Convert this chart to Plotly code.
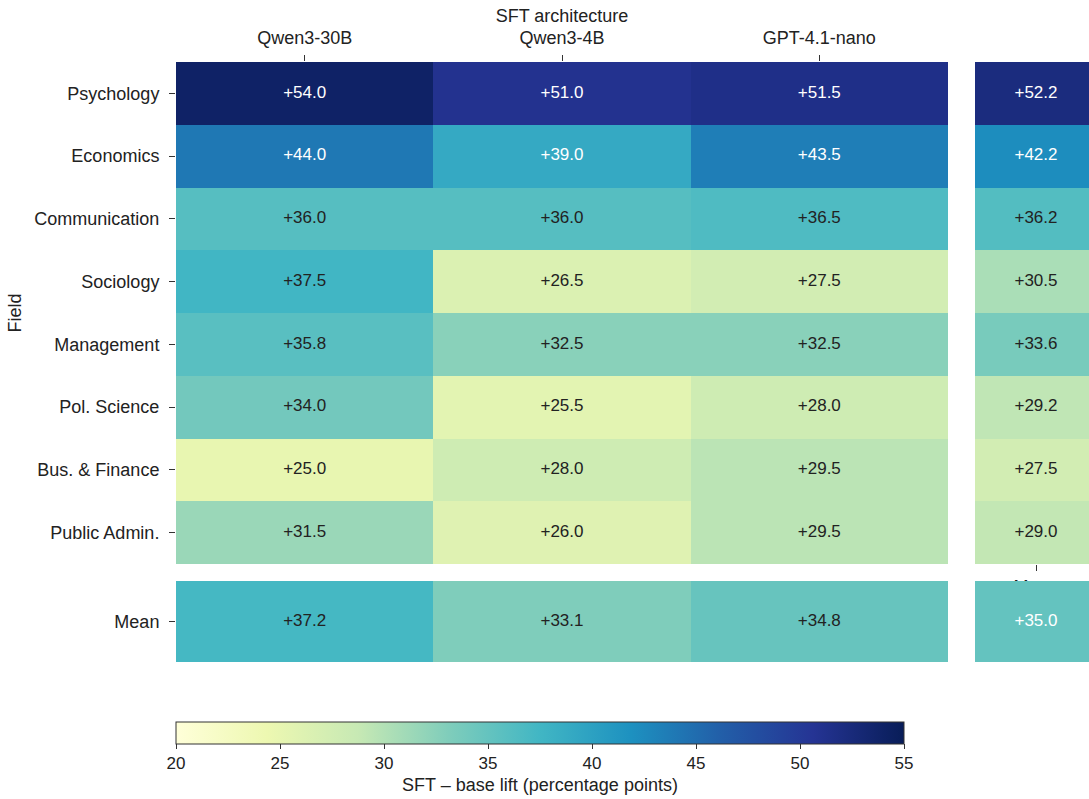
import plotly.graph_objects as go

fields = ["Psychology", "Economics", "Communication", "Sociology", "Management",
          "Pol. Science", "Bus. & Finance", "Public Admin."]
models = ["Qwen3-30B", "Qwen3-4B", "GPT-4.1-nano"]
qwen3_30b = [54.0, 44.0, 36.0, 37.5, 35.8, 34.0, 25.0, 31.5]
qwen3_4b = [51.0, 39.0, 36.0, 26.5, 32.5, 25.5, 28.0, 26.0]
gpt41_nano = [51.5, 43.5, 36.5, 27.5, 32.5, 28.0, 29.5, 29.5]
field_mean = [52.2, 42.2, 36.2, 30.5, 33.6, 29.2, 27.5, 29.0]
model_mean = [37.2, 33.1, 34.8]
overall_mean = [35.0]
cbar_ticks = [20, 25, 30, 35, 40, 45, 50, 55]

W, H = 1089, 799
FONT = "Liberation Sans, Arial, Helvetica, sans-serif"
DARK = "#222222"
ZMIN, ZMAX = 20, 55
YLGNBU = [[0.0, "#ffffd9"], [0.125, "#edf8b1"], [0.25, "#c7e9b4"], [0.375, "#7fcdbb"],
          [0.5, "#41b6c4"], [0.625, "#1d91c0"], [0.75, "#225ea8"], [0.875, "#253494"],
          [1.0, "#081d58"]]


def px_x(p):
    return p / W


def px_y(p):
    return 1 - p / H


def fmt(v):
    return f"+{v:.1f}"


def tcolor(v, thr=38):
    return "white" if v > thr else DARK


main_z = [[qwen3_30b[i], qwen3_4b[i], gpt41_nano[i]] for i in range(len(fields))]

fig = go.Figure()

common = dict(colorscale=YLGNBU, zmin=ZMIN, zmax=ZMAX, hoverinfo="skip")
CELL = dict(family=FONT, size=17)
tickfont = dict(family=FONT, size=18, color=DARK)
titlefont = dict(family=FONT, size=18, color=DARK)

# top-left: fields x models
fig.add_trace(go.Heatmap(z=main_z, x=models, y=fields, xaxis="x", yaxis="y",
                         showscale=True,
                         colorbar=dict(orientation="h", x=px_x(176), xanchor="left",
                                       y=px_y(722), yanchor="top",
                                       lenmode="pixels", len=728, thickness=22,
                                       xpad=0, ypad=0,
                                       outlinewidth=1, outlinecolor="#333333",
                                       tickvals=cbar_ticks, ticks="outside", ticklen=5,
                                       tickcolor="#333333",
                                       tickfont=dict(family=FONT, size=17, color=DARK),
                                       title=dict(text="SFT \u2013 base lift (percentage points)",
                                                  side="bottom",
                                                  font=titlefont)),
                         **common))
xs, ys, ts, cs = [], [], [], []
for i, f in enumerate(fields):
    for j, m in enumerate(models):
        v = main_z[i][j]
        xs.append(m); ys.append(f); ts.append(fmt(v)); cs.append(tcolor(v))
fig.add_trace(go.Scatter(x=xs, y=ys, text=ts, mode="text", xaxis="x", yaxis="y",
                         textfont=dict(CELL, color=cs),
                         hoverinfo="skip", showlegend=False))

# top-right: fields x Mean
fig.add_trace(go.Heatmap(z=[[v] for v in field_mean], x=["Mean"], y=fields,
                         xaxis="x2", yaxis="y2", showscale=False, **common))
fig.add_trace(go.Scatter(x=["Mean"] * len(fields), y=fields,
                         text=[fmt(v) for v in field_mean], mode="text",
                         xaxis="x2", yaxis="y2",
                         textfont=dict(CELL, color=[tcolor(v) for v in field_mean]),
                         hoverinfo="skip", showlegend=False))

# bottom-left: Mean x models
fig.add_trace(go.Heatmap(z=[model_mean], x=models, y=["Mean"],
                         xaxis="x3", yaxis="y3", showscale=False, **common))
fig.add_trace(go.Scatter(x=models, y=["Mean"] * len(models),
                         text=[fmt(v) for v in model_mean], mode="text",
                         xaxis="x3", yaxis="y3",
                         textfont=dict(CELL, color=[tcolor(v) for v in model_mean]),
                         hoverinfo="skip", showlegend=False))

# bottom-right: overall mean
fig.add_trace(go.Heatmap(z=[overall_mean], x=["Mean"], y=["Mean"],
                         xaxis="x4", yaxis="y4", showscale=False, **common))
fig.add_trace(go.Scatter(x=["Mean"], y=["Mean"], text=[fmt(v) for v in overall_mean],
                         mode="text", xaxis="x4", yaxis="y4",
                         textfont=dict(CELL, color="white"),
                         hoverinfo="skip", showlegend=False))

left_dom = [px_x(176), px_x(948)]
right_dom = [px_x(975), 1.0]
top_dom = [px_y(564), px_y(62)]
bot_dom = [px_y(662), px_y(581)]
# right panel is cut by the page edge: its centre sits at x~1036
right_range = [-0.5, 0.5 - 8 / 122]

fig.update_layout(
    width=W, height=H,
    margin=dict(l=0, r=0, t=0, b=0),
    paper_bgcolor="white", plot_bgcolor="white",
    font=dict(family=FONT, color=DARK),
    showlegend=False,
    xaxis=dict(domain=left_dom, anchor="y", side="top", ticks="outside", ticklen=6,
               tickcolor="#333333", tickfont=tickfont, showgrid=False, zeroline=False,
               showline=False, categoryorder="array", categoryarray=models,
               range=[-0.5, 2.5], ticklabelstandoff=4,
               title=dict(text="SFT architecture", font=titlefont, standoff=0)),
    yaxis=dict(domain=top_dom, anchor="x", ticks="outside", ticklen=6, tickcolor="#333333",
               tickfont=tickfont, showgrid=False, zeroline=False, showline=False,
               categoryorder="array", categoryarray=fields, autorange=False,
               range=[len(fields) - 0.5, -0.5], ticklabelstandoff=6,
               title=dict(text="Field", font=titlefont, standoff=8)),
    xaxis2=dict(domain=right_dom, anchor="y2", side="bottom", ticks="outside", ticklen=6,
                tickcolor="#333333", tickfont=tickfont, showgrid=False, zeroline=False,
                showline=False, range=right_range),
    yaxis2=dict(domain=top_dom, anchor="x2", showticklabels=False, ticks="",
                showgrid=False, zeroline=False, showline=False,
                categoryorder="array", categoryarray=fields,
                range=[len(fields) - 0.5, -0.5]),
    xaxis3=dict(domain=left_dom, anchor="y3", showticklabels=False, ticks="",
                showgrid=False, zeroline=False, showline=False,
                categoryorder="array", categoryarray=models, range=[-0.5, 2.5]),
    yaxis3=dict(domain=bot_dom, anchor="x3", ticks="outside", ticklen=6, tickcolor="#333333",
                tickfont=tickfont, showgrid=False, zeroline=False, showline=False,
                range=[-0.5, 0.5], ticklabelstandoff=6),
    xaxis4=dict(domain=right_dom, anchor="y4", showticklabels=False, ticks="",
                showgrid=False, zeroline=False, showline=False, range=right_range),
    yaxis4=dict(domain=bot_dom, anchor="x4", showticklabels=False, ticks="",
                showgrid=False, zeroline=False, showline=False, range=[-0.5, 0.5]),
)

fig.write_html("out.html", config={"displayModeBar": False},
               post_script="document.body.style.margin='0';")
